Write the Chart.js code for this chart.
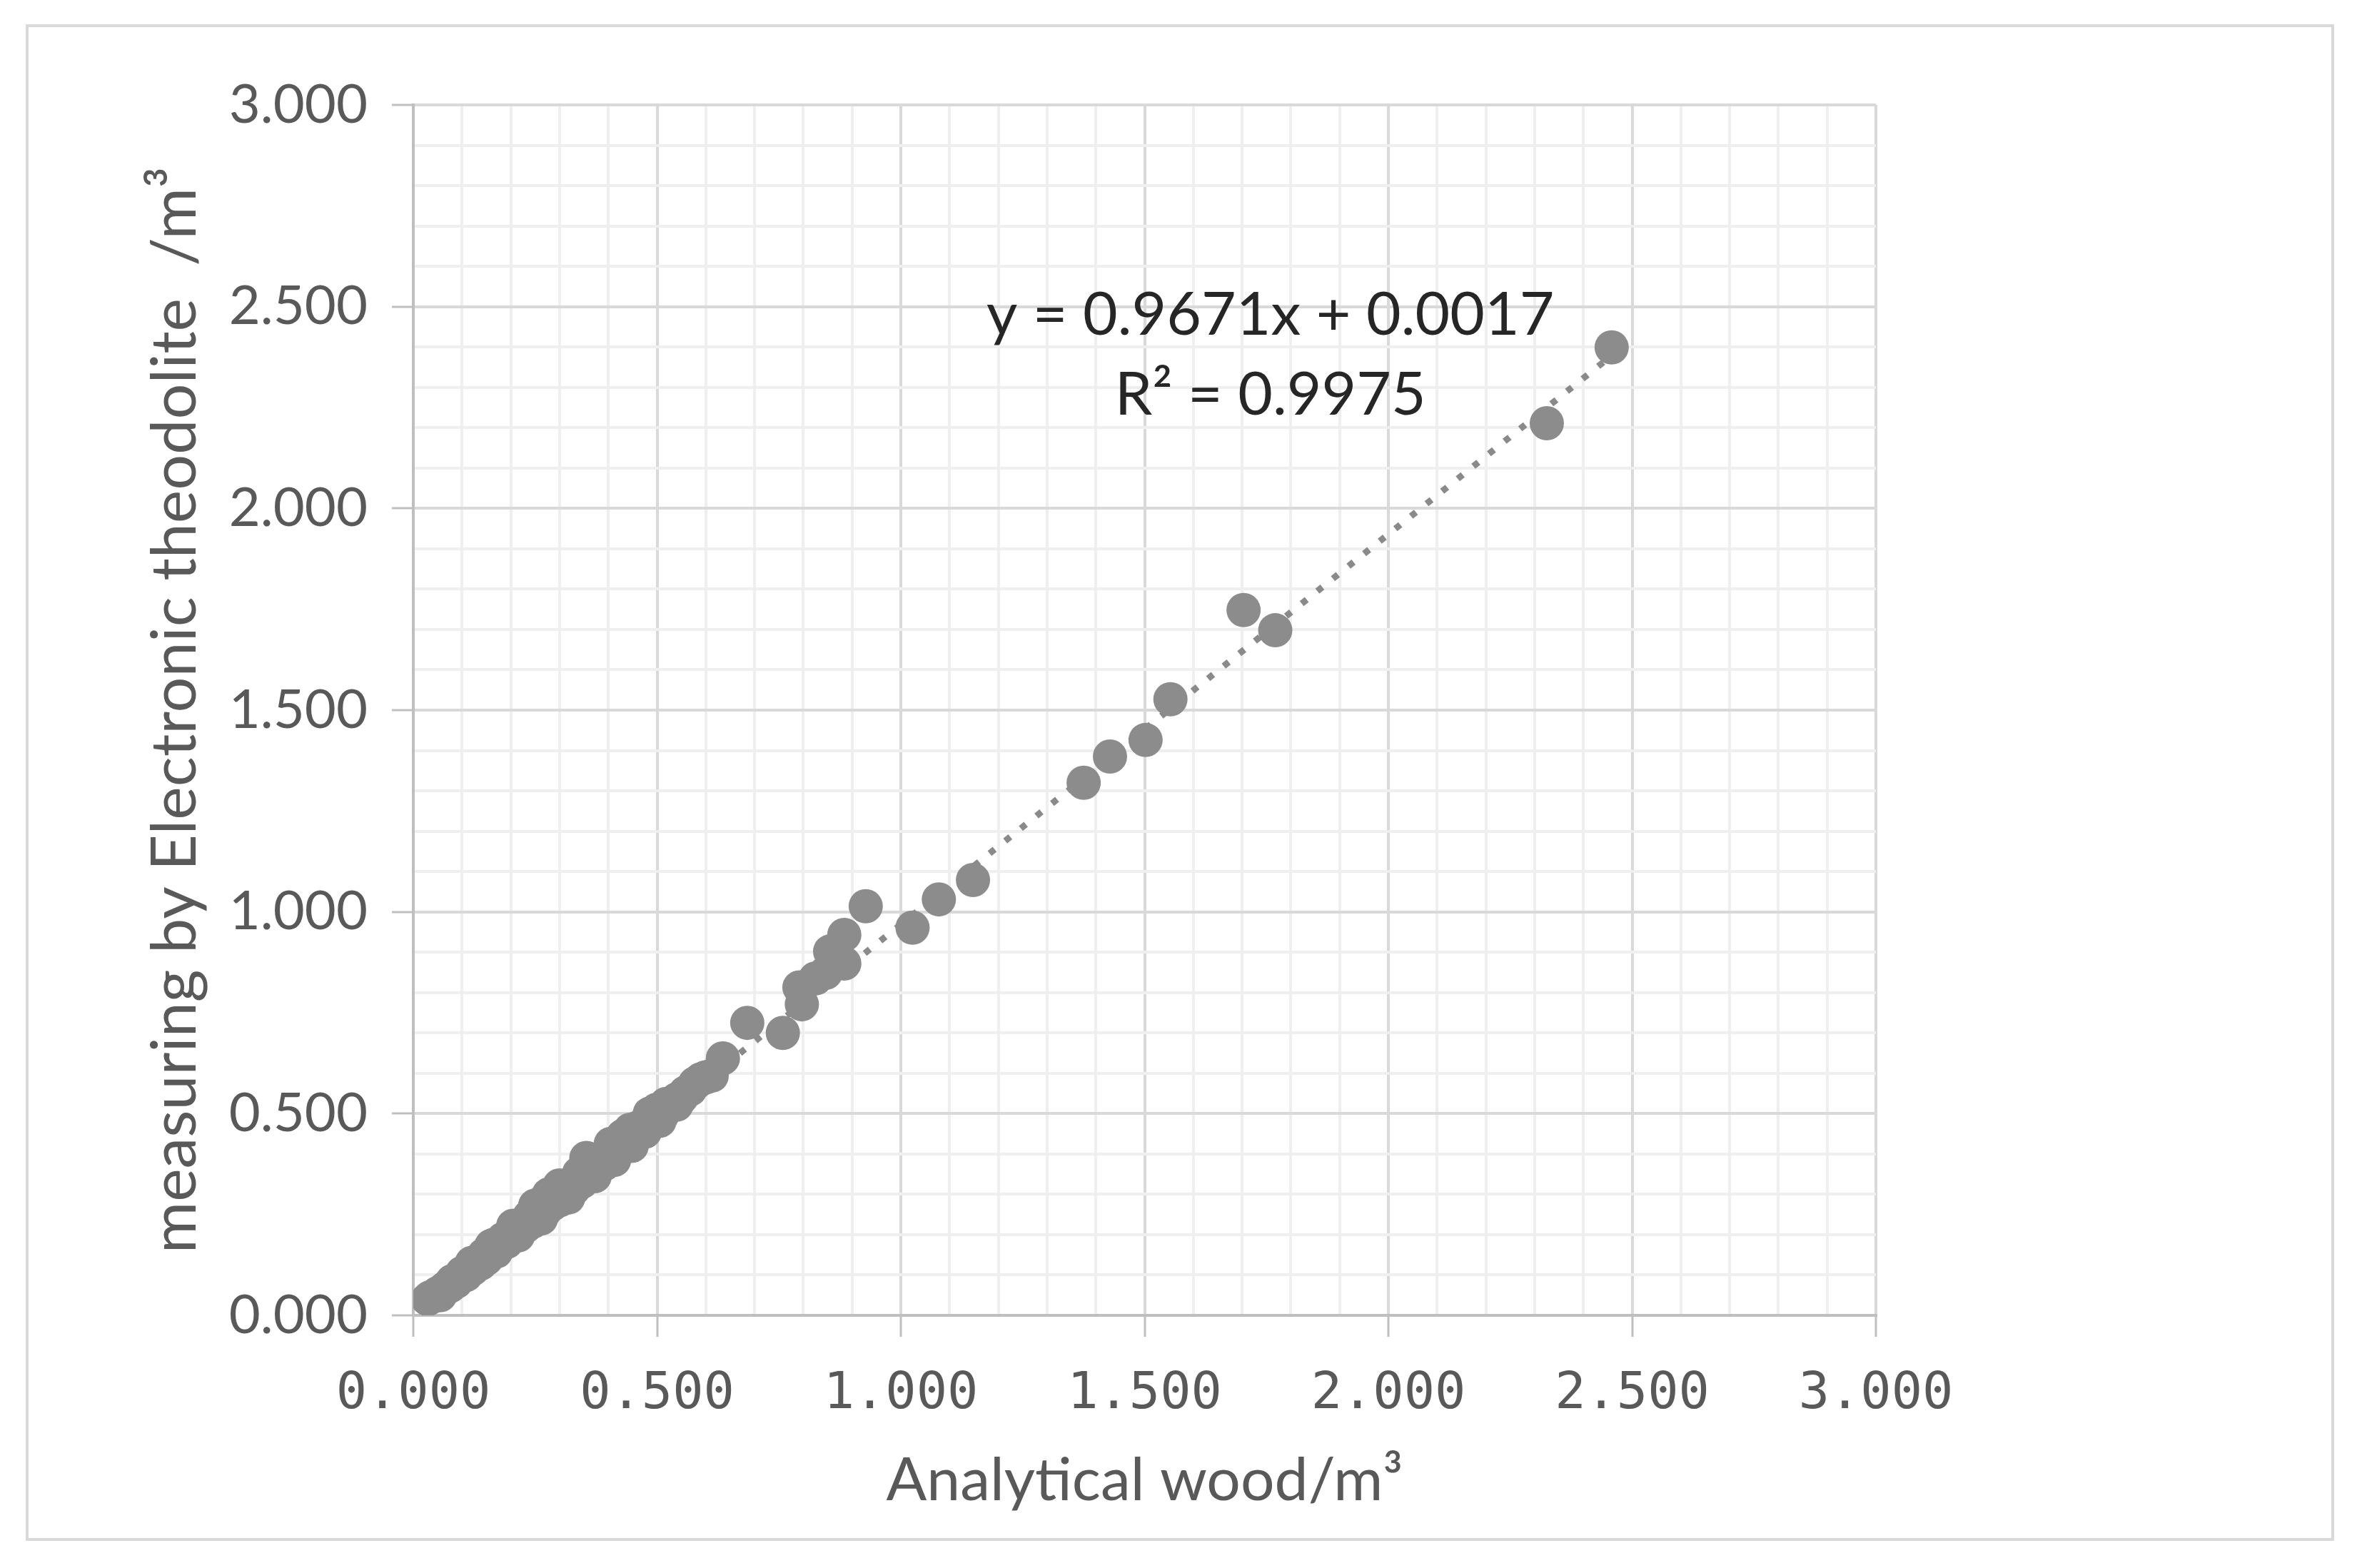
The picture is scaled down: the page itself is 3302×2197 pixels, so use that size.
<!DOCTYPE html>
<html>
<head>
<meta charset="utf-8">
<title>Analytical wood vs Electronic theodolite</title>
<script src="https://cdn.jsdelivr.net/npm/chart.js@4.4.1/dist/chart.umd.min.js"></script>
<style>
    html, body { margin: 0; padding: 0; background: #ffffff; }
    canvas { display: block; }
</style>
</head>
<body>
<canvas id="volumenChart" width="3302" height="2197"></canvas>
<script>
// =======================
// DATOS
// =======================

// volumen analítico (eje x) / m3
const analyticalWood = [
    0.030, 0.035, 0.042, 0.050, 0.055, 0.060, 0.068, 0.075, 0.080, 0.088,
    0.095, 0.100, 0.108, 0.115, 0.122, 0.130, 0.138, 0.145, 0.150, 0.158,
    0.165, 0.170, 0.178, 0.185, 0.192, 0.200, 0.208, 0.215, 0.222, 0.230,
    0.238, 0.245, 0.252, 0.258, 0.265, 0.270, 0.278, 0.285, 0.292, 0.300,
    0.308, 0.315, 0.322, 0.330, 0.338, 0.345, 0.355, 0.360, 0.368, 0.375,
    0.385, 0.392, 0.400, 0.408, 0.415, 0.422, 0.430, 0.438, 0.445, 0.452,
    0.460, 0.470, 0.478, 0.485, 0.492, 0.500, 0.510, 0.519, 0.530, 0.540,
    0.550, 0.558, 0.568, 0.578, 0.590, 0.600, 0.612, 0.635, 0.685, 0.758,
    0.797, 0.792, 0.846, 0.884, 0.855, 0.884, 0.928, 1.024, 1.078, 1.148,
    1.375, 1.429, 1.502, 1.553, 1.703, 1.768, 2.325, 2.458,
    0.120, 0.160, 0.205, 0.250, 0.262, 0.300, 0.318, 0.340, 0.372, 0.405,
    0.412, 0.448, 0.475, 0.505, 0.540, 0.825, 0.870
];

// volumen medido con teodolito electrónico (eje y) / m3
const theodolite = [
    0.040, 0.045, 0.048, 0.055, 0.050, 0.062, 0.070, 0.072, 0.085, 0.083,
    0.095, 0.105, 0.100, 0.118, 0.115, 0.130, 0.128, 0.150, 0.140, 0.160,
    0.175, 0.158, 0.180, 0.190, 0.182, 0.200, 0.210, 0.198, 0.225, 0.220,
    0.245, 0.232, 0.262, 0.250, 0.280, 0.258, 0.300, 0.275, 0.295, 0.285,
    0.310, 0.300, 0.320, 0.315, 0.335, 0.330, 0.390, 0.350, 0.372, 0.360,
    0.385, 0.375, 0.400, 0.392, 0.420, 0.410, 0.445, 0.425, 0.460, 0.440,
    0.465, 0.470, 0.480, 0.500, 0.488, 0.510, 0.495, 0.524, 0.520, 0.535,
    0.540, 0.552, 0.560, 0.575, 0.585, 0.590, 0.594, 0.637, 0.725, 0.700,
    0.771, 0.813, 0.849, 0.872, 0.902, 0.943, 1.014, 0.961, 1.031, 1.079,
    1.320, 1.385, 1.426, 1.527, 1.748, 1.698, 2.211, 2.399,
    0.130, 0.172, 0.222, 0.272, 0.240, 0.322, 0.292, 0.352, 0.345, 0.425,
    0.385, 0.420, 0.455, 0.482, 0.522, 0.835, 0.880
];

// línea de tendencia (ecuación mostrada en el gráfico)
const trendSlope = 0.9671;
const trendIntercept = 0.0017;
const trendEquation = "y = 0.9671x + 0.0017";
const trendR2 = "R² = 0.9975";

// ejes
const xTickLabels = ["0.000", "0.500", "1.000", "1.500", "2.000", "2.500", "3.000"];
const yTickLabels = ["0.000", "0.500", "1.000", "1.500", "2.000", "2.500", "3.000"];
const xTitle = "Analytical wood/m³";
const yTitle = "measuring by Electronic theodolite  /m³";

// =======================
// CONFIGURACIÓN
// =======================

const AXIS_MIN = 0;
const AXIS_MAX = 3;
const MAJOR_STEP = 0.5;
const MINOR_STEP = 0.1;

const GRIS_TEXTO = "#595959";
const GRIS_PUNTO = "#8c8c8c";

function esMayor(valor) {
    const n = valor / MAJOR_STEP;
    return Math.abs(n - Math.round(n)) < 1e-6;
}

function etiqueta(labels) {
    return valor => esMayor(valor) ? labels[Math.round(valor / MAJOR_STEP)] : "";
}

const puntos = analyticalWood.map((x, i) => ({ x: x, y: theodolite[i] }));

const xMin = Math.min(...analyticalWood);
const xMax = Math.max(...analyticalWood);
const tendencia = [
    { x: xMin, y: trendSlope * xMin + trendIntercept },
    { x: xMax, y: trendSlope * xMax + trendIntercept }
];

// fondo blanco y marco exterior
const marcoPlugin = {
    id: "marco",
    beforeDraw(chart) {
        const ctx = chart.ctx;
        ctx.save();
        ctx.fillStyle = "#ffffff";
        ctx.fillRect(0, 0, chart.width, chart.height);
        ctx.strokeStyle = "#d9d9d9";
        ctx.lineWidth = 4;
        ctx.strokeRect(38, 36, 3230, 2121);
        ctx.restore();
    }
};

// etiqueta de la ecuación de tendencia
const ecuacionPlugin = {
    id: "ecuacion",
    afterDatasetsDraw(chart) {
        const ctx = chart.ctx;
        const sx = chart.scales.x;
        const sy = chart.scales.y;
        const cx = sx.getPixelForValue(1.758);
        ctx.save();
        ctx.fillStyle = "#262626";
        ctx.font = "84px Lato";
        ctx.textAlign = "center";
        ctx.textBaseline = "middle";
        ctx.fillText(trendEquation, cx, sy.getPixelForValue(2.478));
        ctx.fillText(trendR2, cx, sy.getPixelForValue(2.28));
        ctx.restore();
    }
};

function ejeOpciones(labels, tickFont) {
    return {
        type: "linear",
        min: AXIS_MIN,
        max: AXIS_MAX,
        ticks: {
            stepSize: MINOR_STEP,
            autoSkip: false,
            maxRotation: 0,
            color: GRIS_TEXTO,
            font: tickFont,
            callback: etiqueta(labels)
        },
        grid: {
            color: ctx => esMayor(ctx.tick.value) ? "#d9d9d9" : "#efefef",
            lineWidth: 4,
            tickColor: ctx => esMayor(ctx.tick.value) ? "#bfbfbf" : "rgba(0,0,0,0)",
            tickWidth: 3,
            tickLength: 30
        },
        border: { color: "#bfbfbf", width: 4 }
    };
}

const ejeX = ejeOpciones(xTickLabels, { family: "DejaVu Sans Mono", size: 72 });
ejeX.ticks.padding = 38;
ejeX.afterFit = scale => { scale.height = 354; };
ejeX.title = {
    display: true,
    text: xTitle,
    color: GRIS_TEXTO,
    font: { family: "Lato", size: 84 },
    padding: { top: 0, bottom: 72 }
};

const ejeY = ejeOpciones(yTickLabels, { family: "Lato", size: 76 });
ejeY.ticks.padding = 34;
ejeY.afterFit = scale => { scale.width = 579; };
ejeY.title = {
    display: true,
    text: yTitle,
    color: GRIS_TEXTO,
    font: { family: "Lato", size: 88 },
    padding: { top: 193, bottom: 0 }
};

const ctx = document.getElementById("volumenChart").getContext("2d");
const volumenChart = new Chart(ctx, {
    type: "scatter",
    data: {
        datasets: [
            {
                label: "Volumen",
                data: puntos,
                backgroundColor: GRIS_PUNTO,
                borderWidth: 0,
                pointRadius: 24,
                pointHoverRadius: 24
            },
            {
                type: "line",
                label: "Tendencia",
                data: tendencia,
                borderColor: "#8a8a8a",
                borderWidth: 9,
                borderDash: [9, 19],
                pointRadius: 0,
                fill: false
            }
        ]
    },
    options: {
        responsive: false,
        animation: false,
        devicePixelRatio: 1,
        layout: { padding: { top: 147, right: 674, bottom: 0, left: 0 } },
        plugins: {
            legend: { display: false },
            tooltip: { enabled: false }
        },
        scales: { x: ejeX, y: ejeY }
    },
    plugins: [marcoPlugin, ecuacionPlugin]
});
</script>
</body>
</html>
